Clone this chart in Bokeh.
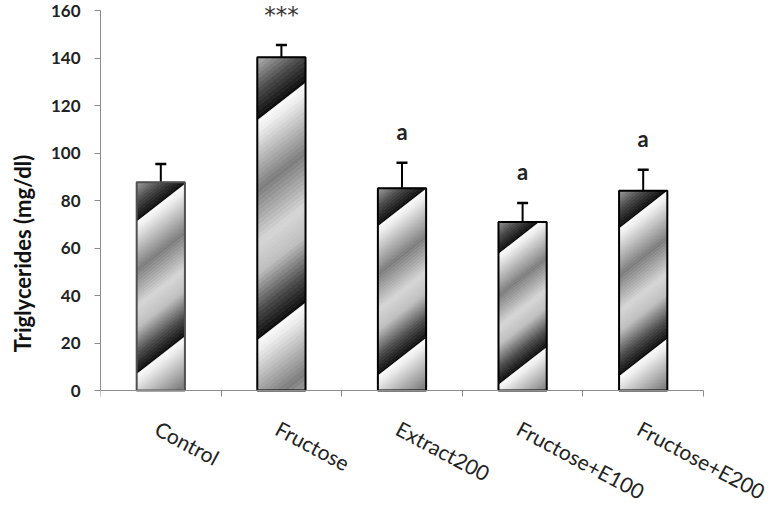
import math
from bokeh.plotting import figure
from bokeh.models import FixedTicker, ColumnDataSource, Whisker, TeeHead, LabelSet, Range1d
from bokeh.core.properties import value
from bokeh.embed import file_html
from bokeh.resources import INLINE

# ---- data ----
categories = ["Control", "Fructose", "Extract200", "Fructose+E100", "Fructose+E200"]
means = [87.7, 140.3, 85.2, 70.9, 84.1]
errors = [7.7, 5.2, 10.7, 8.0, 8.8]
annotations = ["", "***", "a", "a", "a"]
y_ticks = [0, 20, 40, 60, 80, 100, 120, 140, 160]

# ---- layout ----
W_FIG, H_FIG = 770, 506
AXIS_LEFT, AXIS_RIGHT = 100, 703     # pixel extent of the category axis
AXIS_TOP, AXIS_BOTTOM = 10, 390      # pixel extent of the value axis
n = len(categories)
Y_MAX = 160
centers = [i + 0.5 for i in range(n)]
BAR_W = 0.4
sx = (AXIS_RIGHT - AXIS_LEFT) / n          # px per x unit
sy = (AXIS_BOTTOM - AXIS_TOP) / Y_MAX      # px per y unit

x_end = n + (W_FIG - AXIS_RIGHT) / sx
y_start = -(H_FIG - AXIS_BOTTOM) / sy
y_end = Y_MAX + AXIS_TOP / sy

p = figure(width=W_FIG, height=H_FIG, x_range=Range1d(0, x_end), y_range=Range1d(y_start, y_end),
           output_backend="svg", toolbar_location=None,
           min_border_left=AXIS_LEFT, min_border_right=0,
           min_border_top=0, min_border_bottom=0)
p.outline_line_color = None
p.xgrid.visible = False
p.ygrid.visible = False
p.background_fill_color = "white"
p.border_fill_color = "white"

# ---- diagonal gradient fill of bars (built from bar geometry) ----
stops = [(0.0, 250), (0.05, 238), (0.32, 125), (0.56, 214), (0.70, 190), (0.87, 75), (1.0, 10)]


def gray_at(t):
    for (t0, g0), (t1, g1) in zip(stops[:-1], stops[1:]):
        if t0 <= t <= t1:
            g = g0 + (g1 - g0) * (t - t0) / (t1 - t0)
            g = int(round(g))
            return "#%02x%02x%02x" % (g, g, g)
    return "#000000"


def clip(poly, k, s0, keep_ge):
    out = []
    m = len(poly)
    for i in range(m):
        P = poly[i]
        Q = poly[(i + 1) % m]
        sp = P[1] - k * P[0] - s0
        sq = Q[1] - k * Q[0] - s0
        if not keep_ge:
            sp, sq = -sp, -sq
        if sp >= 0:
            out.append(P)
        if (sp >= 0) != (sq >= 0):
            t = sp / (sp - sq)
            out.append((P[0] + t * (Q[0] - P[0]), P[1] + t * (Q[1] - P[1])))
    return out


K = 0.78      # stripe slope (px up per px right)
N_STEPS = 48
xs, ys, cols = [], [], []
for c, v in zip(centers, means):
    Wp = BAR_W * sx
    Hp = v * sy
    rect = [(0, 0), (Wp, 0), (Wp, Hp), (0, Hp)]
    s_e = 0.81 * Hp
    P = 40 + 0.54 * Hp
    m_lo = math.floor((s_e - Hp) / P) - 1
    m_hi = math.ceil((s_e + K * Wp) / P) + 1
    for m in range(m_lo, m_hi + 1):
        for j in range(N_STEPS):
            t0, t1 = j / N_STEPS, (j + 1) / N_STEPS
            s_hi = s_e - (m + t0) * P
            s_lo = s_e - (m + t1) * P
            poly = clip(rect, K, s_lo, True)
            if len(poly) < 3:
                continue
            poly = clip(poly, K, s_hi, False)
            if len(poly) < 3:
                continue
            xs.append([c - BAR_W / 2 + X / sx for X, _ in poly])
            ys.append([Y / sy for _, Y in poly])
            cols.append(gray_at((t0 + t1) / 2))

p.patches(xs, ys, fill_color=cols, line_color=cols, line_width=0.6)

outline_colors = ["#505050", "black", "black", "black", "black"]
p.vbar(x=centers, top=means, width=BAR_W, fill_color=None,
       line_color=outline_colors, line_width=2)

# ---- error bars ----
err_src = ColumnDataSource(dict(x=centers, lower=means,
                                upper=[m + e for m, e in zip(means, errors)]))
p.add_layout(Whisker(base="x", lower="lower", upper="upper", source=err_src,
                     dimension="height", line_color="black", line_width=2,
                     lower_head=None,
                     upper_head=TeeHead(size=11, line_width=2.5, line_color="black")))

# ---- significance labels ----
is_star = [a.startswith("*") for a in annotations]
star_src = ColumnDataSource(dict(
    x=[c for c, s in zip(centers, is_star) if s],
    y=[m + e for m, e, s in zip(means, errors, is_star) if s],
    t=[a for a, s in zip(annotations, is_star) if s]))
letter_src = ColumnDataSource(dict(
    x=[c for c, a, s in zip(centers, annotations, is_star) if a and not s],
    y=[m + e for m, e, a, s in zip(means, errors, annotations, is_star) if a and not s],
    t=[a for a, s in zip(annotations, is_star) if a and not s]))
p.add_layout(LabelSet(x="x", y="y", text="t", source=star_src, y_offset=22,
                      text_align="center", text_baseline="alphabetic",
                      text_font=value("DejaVu Sans"), text_font_size=value("23px"),
                      text_color="#333333"))
p.add_layout(LabelSet(x="x", y="y", text="t", source=letter_src, y_offset=23,
                      text_align="center", text_baseline="alphabetic",
                      text_font=value("Lato"), text_font_size=value("22px"),
                      text_font_style="bold", text_color="#222222"))

# ---- category labels (rotated, below the axis) ----
cat_src = ColumnDataSource(dict(x=centers, y=[0] * n, t=categories))
p.add_layout(LabelSet(x="x", y="y", text="t", source=cat_src, angle=-0.49,
                      x_offset=2, y_offset=-25, text_align="left", text_baseline="top",
                      text_font=value("Lato"), text_font_size=value("21px"),
                      text_color="#222222"))

# ---- axes ----
AX_COL = "#8c8c8c"
yax = p.yaxis[0]
yax.ticker = FixedTicker(ticks=y_ticks)
yax.bounds = (0, Y_MAX)
yax.axis_line_color = AX_COL
yax.major_tick_line_color = AX_COL
yax.major_tick_out = 6
yax.major_tick_in = 0
yax.minor_tick_line_color = None
yax.major_label_text_font = "Lato"
yax.major_label_text_font_size = "17px"
yax.major_label_text_font_style = "bold"
yax.major_label_text_color = "#222222"
yax.major_label_standoff = 14
yax.axis_label = "Triglycerides (mg/dl)"
yax.axis_label_text_font = "Lato"
yax.axis_label_text_font_size = "22px"
yax.axis_label_text_font_style = "bold"
yax.axis_label_text_color = "#111111"
yax.axis_label_standoff = 12

xax = p.xaxis[0]
xax.fixed_location = 0
xax.bounds = (0, n)
xax.ticker = FixedTicker(ticks=[], minor_ticks=list(range(n + 1)))
xax.axis_line_color = AX_COL
xax.major_tick_line_color = None
xax.major_tick_out = 0
xax.major_tick_in = 0
xax.major_label_standoff = 0
xax.major_label_text_font_size = "0px"
xax.minor_tick_line_color = AX_COL
xax.minor_tick_out = 6
xax.minor_tick_in = 0

open("out.html", "w").write(file_html(p, INLINE))
